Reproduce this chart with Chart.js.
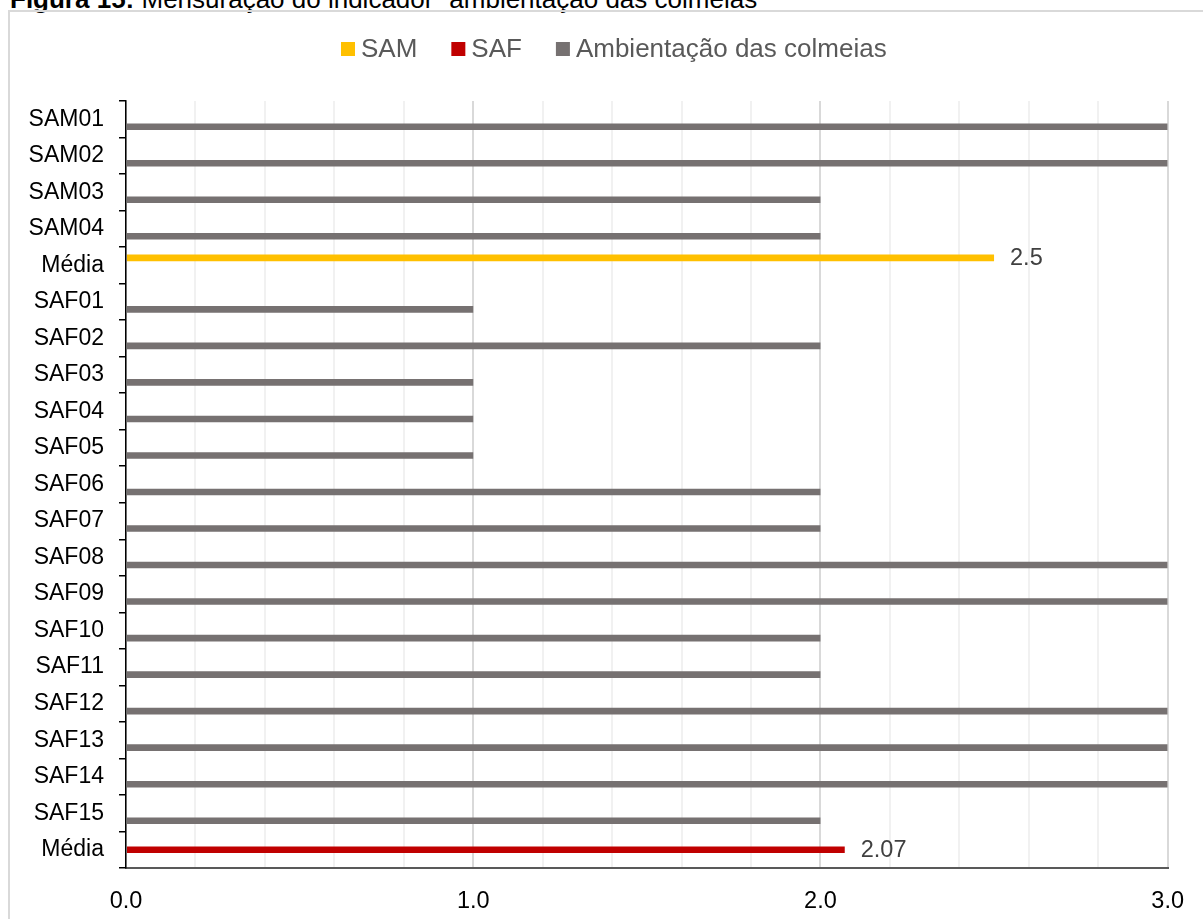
<!DOCTYPE html>
<html>
<head>
<meta charset="utf-8">
<script src="https://cdn.jsdelivr.net/npm/chart.js@4/dist/chart.umd.min.js"></script>
<style>
  html, body { margin: 0; padding: 0; width: 1203px; height: 919px; overflow: hidden; background: #fff;
    font-family: "Liberation Sans", Arial, sans-serif; }
  #caption { position: absolute; left: 10px; top: -14px; font-size: 26px; line-height: 26px; color: #000; white-space: nowrap; }
  #frame { position: absolute; left: 8px; top: 10px; width: 1300px; height: 1000px; border: 2px solid #d9d9d9; box-sizing: border-box; }
  #wrap { position: absolute; left: 0; top: 0; width: 1203px; height: 919px; }
</style>
</head>
<body>
<div id="caption"><b>Figura 15:</b> Mensuração do indicador “ambientação das colmeias”</div>
<div id="frame"></div>
<div id="wrap"><canvas id="chart" width="1203" height="919"></canvas></div>
<script>
// Properties (SAM = sistema agrícola moderno, SAF = sistema agroflorestal) and the two group means
const categories = [
  'SAM01', 'SAM02', 'SAM03', 'SAM04', 'Média',
  'SAF01', 'SAF02', 'SAF03', 'SAF04', 'SAF05', 'SAF06', 'SAF07', 'SAF08',
  'SAF09', 'SAF10', 'SAF11', 'SAF12', 'SAF13', 'SAF14', 'SAF15', 'Média'
];

// Mean score of the SAM group (only on its "Média" row)
const samMean = [null, null, null, null, 2.5,
  null, null, null, null, null, null, null, null, null, null, null, null, null, null, null, null];

// Mean score of the SAF group (only on its "Média" row)
const safMean = [null, null, null, null, null,
  null, null, null, null, null, null, null, null, null, null, null, null, null, null, null, 2.07];

// Indicator score for each property
const hiveScores = [3, 3, 2, 2, null,
  1, 2, 1, 1, 1, 2, 2, 3, 3, 2, 2, 3, 3, 3, 2, null];

const xTicksMin = 0;
const xTicksMax = 3;
const xTicksStep = 0.2;

const FONT = '"Liberation Sans", Arial, sans-serif';

const isWhole = v => Math.abs(v - Math.round(v)) < 1e-6;

// Legend row drawn above the plot
const legendRow = {
  id: 'legendRow',
  afterDraw(chart) {
    const ctx = chart.ctx;
    ctx.save();
    ctx.font = '26px ' + FONT;
    ctx.textBaseline = 'middle';
    ctx.textAlign = 'left';
    let x = 341;
    const y = 49;
    chart.data.datasets.forEach(ds => {
      ctx.fillStyle = ds.backgroundColor;
      ctx.fillRect(x, y - 7, 14, 14);
      x += 20;
      ctx.fillStyle = '#595959';
      ctx.fillText(ds.label, x, y + 1);
      x += ctx.measureText(ds.label).width + 34;
    });
    ctx.restore();
  }
};

// Value labels next to the mean bars
const meanLabels = {
  id: 'meanLabels',
  afterDatasetsDraw(chart) {
    const ctx = chart.ctx;
    ctx.save();
    ctx.font = '23.5px ' + FONT;
    ctx.fillStyle = '#404040';
    ctx.textBaseline = 'middle';
    ctx.textAlign = 'left';
    [0, 1].forEach(di => {
      const meta = chart.getDatasetMeta(di);
      const data = chart.data.datasets[di].data;
      meta.data.forEach((el, i) => {
        if (data[i] === null || data[i] === undefined) return;
        ctx.fillText(String(data[i]), el.x + 16, el.y + 1);
      });
    });
    ctx.restore();
  }
};

const barStyle = { categoryPercentage: 0.615, barPercentage: 0.88 };

new Chart(document.getElementById('chart'), {
  type: 'bar',
  data: {
    labels: categories,
    datasets: [
      Object.assign({ label: 'SAM', data: samMean, backgroundColor: '#FFC000' }, barStyle),
      Object.assign({ label: 'SAF', data: safMean, backgroundColor: '#C00000' }, barStyle),
      Object.assign({ label: 'Ambientação das colmeias', data: hiveScores, backgroundColor: '#767171' }, barStyle)
    ]
  },
  options: {
    indexAxis: 'y',
    responsive: false,
    animation: false,
    layout: { padding: { top: 101, right: 34, bottom: 0, left: 0 } },
    plugins: {
      legend: { display: false },
      tooltip: { enabled: false },
      title: { display: false }
    },
    scales: {
      x: {
        min: xTicksMin,
        max: xTicksMax,
        afterFit(scale) { scale.height = 51; },
        ticks: {
          stepSize: xTicksStep,
          autoSkip: false,
          maxRotation: 0,
          color: '#000',
          padding: 19,
          font: { family: FONT, size: 23.5 },
          callback: v => isWhole(v) ? Number(v).toFixed(1) : ''
        },
        grid: {
          drawTicks: false,
          lineWidth: 2,
          color: ctx => (ctx.tick && isWhole(ctx.tick.value)) ? '#d9d9d9' : '#f1f1f1'
        },
        border: { color: '#595959', width: 2 }
      },
      y: {
        afterFit(scale) { scale.width = 126; },
        ticks: {
          color: '#000',
          padding: 15,
          font: { family: FONT, size: 23 }
        },
        grid: {
          offset: true,
          drawOnChartArea: false,
          drawTicks: true,
          tickLength: 7,
          color: '#000',
          lineWidth: 1.5
        },
        border: { color: '#000', width: 1.5 }
      }
    }
  },
  plugins: [legendRow, meanLabels]
});
</script>
</body>
</html>
